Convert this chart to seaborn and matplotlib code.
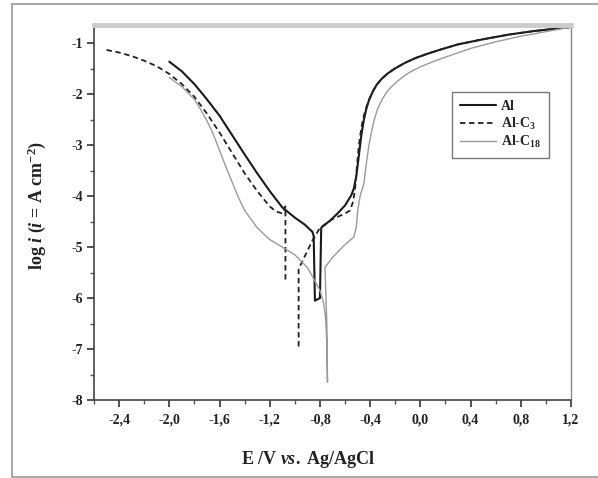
import numpy as np
import pandas as pd
import matplotlib
matplotlib.use("Agg")
import matplotlib.pyplot as plt
import seaborn as sns
from matplotlib.ticker import FixedLocator, MultipleLocator, FuncFormatter
from matplotlib.lines import Line2D

# ---------------- data ----------------
al_E = [-2.00, -1.90, -1.80, -1.70, -1.60, -1.50, -1.40, -1.30, -1.20, -1.10,
        -1.00, -0.92, -0.86, -0.85, -0.84, -0.80, -0.79, -0.72, -0.66, -0.60,
        -0.55, -0.53, -0.51, -0.49, -0.47, -0.45, -0.43, -0.41, -0.38, -0.35,
        -0.31, -0.26, -0.20, -0.12, -0.04, 0.05, 0.15, 0.30, 0.50, 0.70,
        0.90, 1.20]
al_y = [-1.36, -1.55, -1.80, -2.10, -2.42, -2.80, -3.18, -3.55, -3.90, -4.22,
        -4.42, -4.56, -4.70, -4.78, -6.05, -6.00, -4.62, -4.48, -4.34, -4.18,
        -3.98, -3.85, -3.60, -3.20, -2.80, -2.50, -2.28, -2.12, -1.95, -1.82,
        -1.70, -1.59, -1.49, -1.38, -1.29, -1.21, -1.13, -1.02, -0.92, -0.83,
        -0.76, -0.68]

# Al-C3: two visible pieces (segment 0 = cathodic branch, segment 1 = dip + anodic)
c3_E = [-2.50, -2.40, -2.30, -2.20, -2.10, -2.00, -1.90, -1.80, -1.70, -1.60,
        -1.50, -1.40, -1.30, -1.20, -1.15, -1.10, -1.075, -1.075,
        -0.97, -0.97, -0.86, -0.80, -0.70, -0.60, -0.56, -0.535, -0.52, -0.505,
        -0.49, -0.47, -0.45, -0.43, -0.41, -0.38, -0.35, -0.31, -0.26, -0.20,
        -0.12, -0.04, 0.05, 0.15, 0.30, 0.50, 0.70, 0.90, 1.20]
c3_y = [-1.13, -1.18, -1.25, -1.34, -1.45, -1.60, -1.80, -2.05, -2.38, -2.75,
        -3.15, -3.55, -3.90, -4.20, -4.30, -4.34, -4.20, -5.70,
        -6.95, -5.43, -4.87, -4.62, -4.45, -4.34, -4.28, -4.10, -3.85, -3.40,
        -3.00, -2.65, -2.42, -2.25, -2.11, -1.95, -1.82, -1.70, -1.59, -1.49,
        -1.38, -1.29, -1.21, -1.13, -1.02, -0.92, -0.83, -0.76, -0.68]
c3_seg = [0] * 18 + [1] * 29

c18_E = [-2.00, -1.90, -1.80, -1.75, -1.70, -1.65, -1.60, -1.55, -1.50, -1.45,
         -1.40, -1.30, -1.20, -1.10, -1.00, -0.90, -0.85, -0.80, -0.77, -0.755,
         -0.745, -0.740, -0.745, -0.76, -0.70, -0.60, -0.53, -0.51, -0.50, -0.48,
         -0.45, -0.43, -0.41, -0.39, -0.37, -0.34, -0.30, -0.26, -0.20, -0.14,
         -0.08, 0.00, 0.10, 0.20, 0.40, 0.60, 0.80, 1.00, 1.20]
c18_y = [-1.67, -1.85, -2.10, -2.30, -2.52, -2.78, -3.10, -3.42, -3.72, -4.02,
         -4.28, -4.62, -4.85, -5.00, -5.15, -5.40, -5.62, -5.85, -6.10, -6.40,
         -6.90, -7.65, -6.50, -5.40, -5.20, -4.95, -4.80, -4.60, -4.30, -4.00,
         -3.75, -3.35, -3.00, -2.75, -2.52, -2.28, -2.08, -1.93, -1.78, -1.66,
         -1.56, -1.46, -1.36, -1.27, -1.10, -0.97, -0.86, -0.77, -0.68]

series_names = ["Al", "Al-C$_3$", "Al-C$_{18}$"]
x_ticks = [-2.4, -2.0, -1.6, -1.2, -0.8, -0.4, 0.0, 0.4, 0.8, 1.2]
y_ticks = [-1, -2, -3, -4, -5, -6, -7, -8]

# ---------------- style ----------------
sns.set_theme(style="ticks")
plt.rcParams["font.family"] = ["Liberation Serif", "DejaVu Serif"]
plt.rcParams["font.weight"] = "bold"
plt.rcParams["axes.labelweight"] = "bold"
plt.rcParams["mathtext.fontset"] = "custom"
plt.rcParams["mathtext.rm"] = "Liberation Serif:bold"
plt.rcParams["mathtext.it"] = "Liberation Serif:italic:bold"
plt.rcParams["mathtext.bf"] = "Liberation Serif:bold"

fig = plt.figure(figsize=(5.98, 4.78), dpi=100)
ax = fig.add_axes([94 / 598, 1 - 400 / 478, (571 - 94) / 598, (400 - 25) / 478])

frames = [
    pd.DataFrame({"E": al_E, "logi": al_y, "series": series_names[0], "seg": 0}),
    pd.DataFrame({"E": c3_E, "logi": c3_y, "series": series_names[1], "seg": c3_seg}),
    pd.DataFrame({"E": c18_E, "logi": c18_y, "series": series_names[2], "seg": 0}),
]
df = pd.concat(frames, ignore_index=True)

colors = {"Al": "#1a1a1a", "Al-C$_3$": "#222222", "Al-C$_{18}$": "#9a9a9a"}
widths = {"Al": 1.5, "Al-C$_3$": 1.3, "Al-C$_{18}$": 1.0}
styles = {"Al": "-", "Al-C$_3$": (0, (3, 2)), "Al-C$_{18}$": "-"}

for name in series_names:
    sub = df[df["series"] == name]
    sns.lineplot(data=sub, x="E", y="logi", units="seg", sort=False, estimator=None,
                 ax=ax, color=colors[name], linewidth=widths[name],
                 linestyle=styles[name], legend=False)

ax.set_xlim(-2.6, 1.2)
ax.set_ylim(-8, -0.64)

ax.xaxis.set_major_locator(FixedLocator(x_ticks))
ax.xaxis.set_minor_locator(MultipleLocator(0.2))
ax.yaxis.set_major_locator(FixedLocator(y_ticks))
ax.yaxis.set_minor_locator(MultipleLocator(0.5))


def fmt_x(v, pos):
    s = f"{v:.1f}".replace(".", ",")
    if s.startswith("-0,0"):
        s = "0,0"
    return s


ax.xaxis.set_major_formatter(FuncFormatter(fmt_x))
ax.yaxis.set_major_formatter(FuncFormatter(lambda v, p: f"{int(round(v))}"))

ax.tick_params(axis="both", which="major", direction="out", length=5, width=1.2,
               labelsize=10, color="#333333", labelcolor="#222222")
ax.tick_params(axis="x", which="major", pad=5)
ax.tick_params(axis="y", which="major", pad=3)
ax.tick_params(axis="both", which="minor", direction="out", length=3, width=1.0,
               color="#555555")

for side in ["left", "bottom"]:
    ax.spines[side].set_color("#444444")
    ax.spines[side].set_linewidth(1.2)
ax.spines["top"].set_visible(True)
ax.spines["right"].set_visible(True)
ax.spines["top"].set_color("#cccccc")
ax.spines["top"].set_linewidth(3.5)
ax.spines["right"].set_color("#8a8a8a")
ax.spines["right"].set_linewidth(1.0)

ax.set_xlabel(r"E /V $\it{vs.}$ Ag/AgCl", fontsize=13, color="#222222",
              fontweight="bold")
ax.xaxis.set_label_coords((308 - 94) / 477, (400 - 449) / 375)
ax.set_ylabel(r"log $\it{i}$ ($\it{i}$ = A cm$^{-2}$)", fontsize=13, color="#222222",
              fontweight="bold")
ax.yaxis.set_label_coords((48 - 94) / 477, (400 - 205) / 375)

handles = [Line2D([], [], color=colors[n], linewidth=widths[n], linestyle=styles[n])
           for n in series_names]
leg = ax.legend(handles, series_names, loc="upper right",
                bbox_to_anchor=((549 - 94) / 477, (400 - 92) / 375),
                borderaxespad=0, fontsize=10, frameon=True, fancybox=False,
                handlelength=2.6, handletextpad=0.4, labelspacing=0.2,
                borderpad=0.55, prop={"weight": "bold", "size": 10})
leg.get_frame().set_edgecolor("#555555")
leg.get_frame().set_linewidth(1.0)

# scanned page frame
fig.add_artist(Line2D([12 / 598, 12 / 598], [1 - 4 / 478, 1 - 477 / 478],
                      transform=fig.transFigure, color="#aaaaaa", linewidth=1.5))
fig.add_artist(Line2D([12 / 598, 1.0], [1 - 4 / 478, 1 - 4 / 478],
                      transform=fig.transFigure, color="#aaaaaa", linewidth=1.5))
fig.add_artist(Line2D([12 / 598, 1.0], [1 - 477 / 478, 1 - 477 / 478],
                      transform=fig.transFigure, color="#aaaaaa", linewidth=1.5))

fig.savefig("out.png", dpi=100)
